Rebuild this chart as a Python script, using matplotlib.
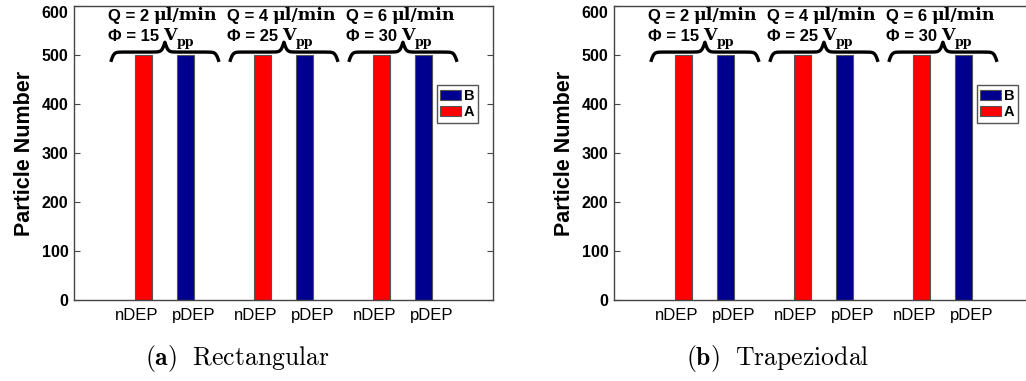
import numpy as np
import matplotlib.pyplot as plt

plt.rcParams['mathtext.fontset'] = 'cm'

# experiment settings per group
flow_rate = [2, 4, 6]          # Q, ul/min
voltage = [15, 25, 30]         # Phi, Vpp
groups = np.array([1, 2, 3])

# particle counts for each waveform
rect_A = [500, 500, 500]
rect_B = [500, 500, 500]
trap_A = [500, 500, 500]
trap_B = [500, 500, 500]

tick_names = ['nDEP', 'pDEP']
captions = [r'$\mathbf{(a)}\ \ \mathrm{Rectangular}$',
            r'$\mathbf{(b)}\ \ \mathrm{Trapeziodal}$']

red = '#ff0000'
navy = '#00008f'
off = 0.176
bw = 0.143

SANS = 'Liberation Sans'
SERIF = 'DejaVu Serif'


def brace(ax, xc, half, y0, amp, k=75):
    # curly brace opening downwards, tip at xc
    s = np.linspace(0, half, 300)
    yh = 1 / (1 + np.exp(-k * s)) + 1 / (1 + np.exp(-k * (s - half)))
    x = np.concatenate([xc - half + s, xc + half - s[::-1]])
    y = np.concatenate([yh, yh[::-1]])
    ax.plot(x, y0 + (y - 0.5) * amp, color='k', lw=2.4,
            solid_capstyle='butt', clip_on=False)


def chain(first, parts):
    prev = first
    for txt, kw in parts:
        prev = prev.axes.annotate(txt, xy=(1, 0), xycoords=prev,
                                  va='bottom', **kw)
    return prev


def panel(ax, vals_A, vals_B, caption):
    ax.bar(groups - off, vals_A, bw, color=red, edgecolor='#555555',
           lw=0.8, label='A', zorder=2)
    ax.bar(groups + off, vals_B, bw, color=navy, edgecolor='#555555',
           lw=0.8, label='B', zorder=2)
    ax.set_xlim(0.236, 3.757)
    ax.set_ylim(0, 600)
    ax.set_yticks(range(0, 601, 100))

    xt = np.sort(np.concatenate([groups - 0.24, groups + 0.24]))
    ax.set_xticks(xt)
    ax.set_xticklabels(tick_names * 3, fontfamily=SANS, fontsize=12)
    ax.tick_params(axis='x', length=0, pad=6)
    ax.tick_params(axis='y', direction='in', length=4, right=True,
                   pad=4, colors='#444444', labelcolor='k')
    for lab in ax.get_yticklabels():
        lab.set_fontfamily(SANS)
        lab.set_fontweight('bold')
        lab.set_fontsize(11.5)
    ax.get_yticklabels()[-1].set_verticalalignment('top')
    for sp in ax.spines.values():
        sp.set_color('#444444')
        sp.set_linewidth(1.0)

    ax.set_ylabel('Particle Number', fontfamily=SANS, fontweight='bold',
                  fontsize=15.5, labelpad=5)

    for g, q, v in zip(groups, flow_rate, voltage):
        brace(ax, g, 0.455, 486, 40)
        t = ax.text(g - 0.48, 563, f'Q = {q} ', fontfamily=SANS,
                    fontweight='bold', fontsize=12, va='bottom')
        chain(t, [('\u03bcl/min', dict(fontfamily=SERIF, fontweight='bold',
                                        fontsize=12.5))])
        t = ax.text(g - 0.48, 522, f'\u03a6 = {v} ', fontfamily=SANS,
                    fontweight='bold', fontsize=12, va='bottom')
        vt = chain(t, [('V', dict(fontfamily=SERIF, fontweight='bold',
                                  fontsize=12.5))])
        ax.annotate('pp', xy=(1, 0), xycoords=vt, va='bottom',
                    xytext=(0, -3.5), textcoords='offset points',
                    fontfamily=SERIF, fontweight='bold', fontsize=9)

    h, l = ax.get_legend_handles_labels()
    ax.legend(h[::-1], l[::-1], loc='upper right',
              bbox_to_anchor=(0.964, 0.73), borderaxespad=0,
              fancybox=False, edgecolor='#555555', framealpha=1,
              handlelength=1.4, handleheight=0.75, handletextpad=0.2,
              borderpad=0.25, labelspacing=0.15,
              prop=dict(family=SANS, weight='bold', size=10.5))

    ax.text(0.39, -0.2, caption, transform=ax.transAxes, ha='center',
            va='center', fontsize=18.5)


fig = plt.figure(figsize=(10.26, 3.81), dpi=100)
ax1 = fig.add_axes([74 / 1026, 81 / 381, 419 / 1026, 294 / 381])
ax2 = fig.add_axes([614 / 1026, 81 / 381, 419 / 1026, 294 / 381])

panel(ax1, rect_A, rect_B, captions[0])
panel(ax2, trap_A, trap_B, captions[1])

fig.savefig('out.png', dpi=100)
